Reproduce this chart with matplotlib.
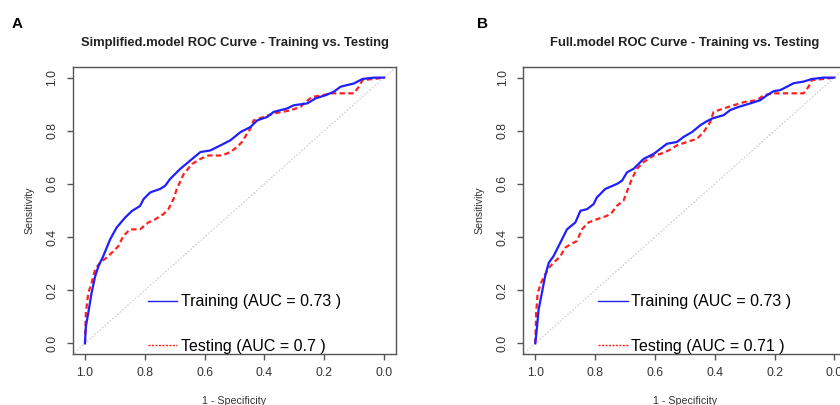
import matplotlib
matplotlib.use("Agg")
import matplotlib.pyplot as plt
from matplotlib.lines import Line2D

plt.rcParams['font.family'] = ['Liberation Sans', 'DejaVu Sans']

# ---- data ----
tickvals = [1.0, 0.8, 0.6, 0.4, 0.2, 0.0]
ticklabels = ["1.0", "0.8", "0.6", "0.4", "0.2", "0.0"]

titles = ["Simplified.model ROC Curve - Training vs. Testing",
          "Full.model ROC Curve - Training vs. Testing"]
panel_letters = ["A", "B"]
train_labels = ["Training (AUC = 0.73 )", "Training (AUC = 0.73 )"]
test_labels = ["Testing (AUC = 0.7 )", "Testing (AUC = 0.71 )"]

# Panel A
a_train_spec = [1.0, 0.997, 0.989, 0.978, 0.966, 0.955, 0.939, 0.916, 0.894, 0.866, 0.843, 0.816,
                0.804, 0.782, 0.749, 0.732, 0.715, 0.682, 0.648, 0.614, 0.581, 0.547, 0.514, 0.480,
                0.447, 0.424, 0.391, 0.369, 0.324, 0.302, 0.257, 0.229, 0.195, 0.168, 0.145, 0.101,
                0.072, 0.033, 0.0]
a_train_sens = [0.0, 0.063, 0.114, 0.189, 0.252, 0.290, 0.328, 0.391, 0.436, 0.473, 0.498, 0.517,
                0.543, 0.568, 0.581, 0.593, 0.619, 0.656, 0.688, 0.720, 0.726, 0.745, 0.764, 0.795,
                0.814, 0.839, 0.852, 0.871, 0.884, 0.896, 0.903, 0.922, 0.934, 0.947, 0.966, 0.978,
                0.995, 1.0, 1.0]
a_test_spec = [1.0, 0.997, 0.989, 0.978, 0.966, 0.950, 0.922, 0.905, 0.888, 0.872, 0.849, 0.816,
               0.788, 0.765, 0.738, 0.721, 0.704, 0.693, 0.670, 0.642, 0.614, 0.587, 0.542, 0.514,
               0.491, 0.475, 0.458, 0.447, 0.436, 0.402, 0.369, 0.313, 0.279, 0.268, 0.240, 0.212,
               0.179, 0.134, 0.101, 0.084, 0.072, 0.033, 0.0]
a_test_sens = [0.0, 0.114, 0.189, 0.227, 0.278, 0.303, 0.328, 0.347, 0.366, 0.404, 0.429, 0.429,
               0.455, 0.467, 0.486, 0.505, 0.543, 0.581, 0.637, 0.675, 0.694, 0.707, 0.707, 0.720,
               0.739, 0.758, 0.789, 0.808, 0.839, 0.852, 0.865, 0.877, 0.890, 0.903, 0.928, 0.932,
               0.941, 0.941, 0.941, 0.966, 0.991, 0.995, 1.0]

# Panel B
b_train_spec = [1.0, 0.994, 0.989, 0.978, 0.967, 0.955, 0.939, 0.922, 0.905, 0.894, 0.866, 0.849,
                0.827, 0.805, 0.794, 0.766, 0.727, 0.710, 0.693, 0.671, 0.638, 0.604, 0.560, 0.526,
                0.504, 0.476, 0.448, 0.431, 0.409, 0.370, 0.348, 0.320, 0.281, 0.248, 0.225, 0.203,
                0.181, 0.158, 0.136, 0.103, 0.075, 0.036, 0.0]
b_train_sens = [0.0, 0.063, 0.126, 0.189, 0.253, 0.303, 0.328, 0.366, 0.404, 0.429, 0.455, 0.499,
                0.505, 0.524, 0.549, 0.581, 0.600, 0.612, 0.644, 0.657, 0.694, 0.713, 0.751, 0.758,
                0.777, 0.795, 0.821, 0.833, 0.846, 0.859, 0.878, 0.890, 0.903, 0.915, 0.934, 0.949,
                0.953, 0.966, 0.979, 0.985, 0.995, 1.0, 1.0]
b_test_spec = [1.0, 0.997, 0.992, 0.981, 0.970, 0.955, 0.939, 0.916, 0.900, 0.883, 0.861, 0.844,
               0.822, 0.794, 0.760, 0.744, 0.727, 0.705, 0.688, 0.677, 0.660, 0.638, 0.604, 0.582,
               0.554, 0.526, 0.493, 0.459, 0.437, 0.415, 0.404, 0.370, 0.337, 0.298, 0.259, 0.236,
               0.203, 0.158, 0.103, 0.086, 0.075, 0.036, 0.0]
b_test_sens = [0.0, 0.114, 0.189, 0.227, 0.253, 0.284, 0.303, 0.328, 0.360, 0.372, 0.385, 0.429,
               0.455, 0.467, 0.480, 0.492, 0.518, 0.537, 0.587, 0.619, 0.657, 0.682, 0.707, 0.713,
               0.726, 0.745, 0.758, 0.770, 0.795, 0.833, 0.871, 0.884, 0.896, 0.909, 0.915, 0.934,
               0.941, 0.941, 0.941, 0.966, 0.991, 0.995, 1.0]

panels = [
    (a_train_spec, a_train_sens, a_test_spec, a_test_sens),
    (b_train_spec, b_train_sens, b_test_spec, b_test_sens),
]

# ---- style ----
BLUE = "#1f1fff"
RED = "#ff2020"
FRAME = "#555555"
TXT = "#333333"
W, H = 840, 405

fig = plt.figure(figsize=(8.4, 4.05), dpi=100)
fig.patch.set_facecolor("white")

ax_lefts = [73, 523.3]
letter_x = [12, 477]

for i, (trs, trn, tes, ten) in enumerate(panels):
    ax = fig.add_axes([ax_lefts[i] / W, 51 / H, 323 / W, 287 / H])
    ax.axline((1, 0), (0, 1), color="#cccccc", lw=0.9, ls=(0, (1.2, 1.5)), zorder=1)
    ax.plot(trs, trn, color=BLUE, lw=1.6, zorder=3, solid_joinstyle="round")
    ax.plot(tes, ten, color=RED, lw=1.6, ls=(0, (2.4, 1.5)), zorder=2)
    ax.set_xlim(1.04, -0.04)
    ax.set_ylim(-0.04, 1.04)
    ax.set_xticks(tickvals)
    ax.set_xticklabels(ticklabels)
    ax.set_yticks(tickvals)
    ax.set_yticklabels(ticklabels)
    for sp in ax.spines.values():
        sp.set_color(FRAME)
        sp.set_linewidth(1.0)
    ax.tick_params(axis="both", direction="out", length=4.5, width=1.0, color=FRAME,
                   labelsize=8.8, labelcolor=TXT)
    ax.tick_params(axis="y", labelrotation=90, pad=6)
    ax.tick_params(axis="x", pad=5)
    for lab in ax.get_yticklabels():
        lab.set_va("center")
    ax.set_title(titles[i], fontsize=9.4, fontweight="bold", color="#222222", pad=15)
    ax.set_ylabel("Sensitivity", fontsize=7.6, color=TXT)
    ax.yaxis.set_label_coords(-0.12, 0.5)
    ax.set_xlabel("1 - Specificity", fontsize=7.7, color=TXT)
    ax.xaxis.set_label_coords(0.5, -0.145)

    handles = [Line2D([], [], color=BLUE, lw=1.0),
               Line2D([], [], color=RED, lw=1.0, ls=(0, (1.5, 1.0)))]
    ax.legend(handles, [train_labels[i], test_labels[i]], loc="center left",
              bbox_to_anchor=(0.232, 0.1045), frameon=False, fontsize=11.5,
              handlelength=1.85, handletextpad=0.2, labelspacing=1.85,
              borderpad=0, borderaxespad=0)

    fig.text(letter_x[i] / W, 1 - 24 / H, panel_letters[i], ha="left", va="center",
             fontsize=11, fontweight="bold", color="black")

fig.savefig("out.png", dpi=100)
